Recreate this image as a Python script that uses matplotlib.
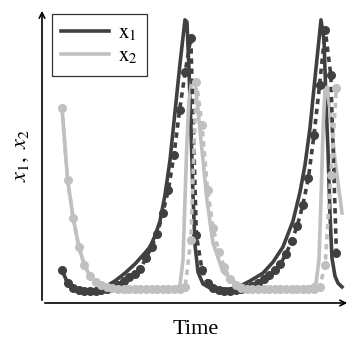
import numpy as np
import matplotlib.pyplot as plt

plt.rcParams['mathtext.fontset'] = 'stix'
plt.rcParams['font.family'] = 'Liberation Serif'

dark = '#404040'
light = '#c0c0c0'

# continuous model (solid)
t_x1 = [0, 1, 2, 3, 4.11, 5.89, 7.68, 9.46, 11.25, 13.04, 14.82, 15.71,
        16.61, 17.5, 18.39, 19.29, 20.18, 21.07, 21.96, 22.32, 22.68, 23.04, 23.39,
        23.75, 24.29, 25.18, 26.43, 28.21, 30.0, 31.79, 33.57, 35.89, 37.68, 39.46,
        41.25, 42.5, 43.39, 44.29, 45.18, 46.25, 46.79, 47.14, 47.5, 47.86, 48.21,
        48.75, 49.29, 50.0]
x1 = [0.093, 0.044, 0.026, 0.020, 0.019, 0.019, 0.030, 0.052, 0.081, 0.115, 0.156, 0.178,
      0.219, 0.274, 0.370, 0.500, 0.678, 0.856, 1.019, 1.011, 0.833, 0.611, 0.370,
      0.185, 0.085, 0.041, 0.026, 0.022, 0.022, 0.033, 0.052, 0.081, 0.122, 0.178,
      0.274, 0.381, 0.481, 0.619, 0.804, 1.019, 0.944, 0.722, 0.537, 0.296, 0.137,
      0.070, 0.044, 0.030]

t_x2 = [0, 1, 2, 3, 4, 5, 6, 8, 10, 20.18, 21.07, 21.61, 21.96,
        22.32, 22.68, 23.21, 23.75, 24.29, 25.0, 25.89, 26.96, 28.75, 31.25, 33.57,
        38.93, 44.29, 45.36, 45.89, 46.25, 46.61, 46.96, 47.32, 47.86, 48.75, 50.0]
x2 = [0.693, 0.426, 0.285, 0.178, 0.111, 0.070, 0.048, 0.030, 0.022, 0.022, 0.037, 0.130,
      0.352, 0.574, 0.722, 0.796, 0.789, 0.685, 0.537, 0.352, 0.193, 0.085, 0.041, 0.026,
      0.022, 0.026, 0.044, 0.130, 0.352, 0.611, 0.759, 0.770, 0.685, 0.500, 0.304]

# sampled estimate (dashed + markers)
t_s = list(range(50))
x1_s = [0.093, 0.044, 0.026, 0.019, 0.015, 0.015, 0.015, 0.019, 0.022, 0.030,
        0.037, 0.052, 0.067, 0.078, 0.096, 0.137, 0.178, 0.226, 0.304, 0.389,
        0.519, 0.685, 0.826, 0.952, 0.222, 0.093, 0.044, 0.026, 0.019, 0.015,
        0.015, 0.019, 0.022, 0.026, 0.033, 0.044, 0.059, 0.074, 0.093, 0.115,
        0.152, 0.200, 0.256, 0.333, 0.433, 0.593, 0.778, 0.981, 0.815, 0.156]
x2_s = [0.693, 0.426, 0.285, 0.178, 0.111, 0.070, 0.048, 0.037, 0.030, 0.026,
        0.022, 0.022, 0.022, 0.022, 0.022, 0.022, 0.022, 0.022, 0.022, 0.022,
        0.022, 0.022, 0.030, 0.204, 0.789, 0.630, 0.389, 0.248, 0.159, 0.104,
        0.059, 0.037, 0.026, 0.022, 0.022, 0.022, 0.022, 0.022, 0.022, 0.022,
        0.022, 0.022, 0.022, 0.022, 0.022, 0.022, 0.030, 0.111, 0.444, 0.767]

fig = plt.figure(figsize=(3.6, 3.45), dpi=100)
ax = fig.add_axes([42/360, 42/345, 308/360, 295/345])

ax.plot(t_x1, x1, color=dark, lw=2.6, label=r'$\mathrm{x}_1\ \ $', zorder=2)
ax.plot(t_x2, x2, color=light, lw=2.6, label=r'$\mathrm{x}_2\ \ $', zorder=2)
ax.plot(t_s, x1_s, color=dark, lw=2.6, ls=(0, (1.5, 1.3)), marker='o', ms=5.5, zorder=3)
ax.plot(t_s, x2_s, color=light, lw=2.6, ls=(0, (1.5, 1.3)), marker='o', ms=5.5, zorder=4)

ax.set_xlim(-3.57, 51.43)
ax.set_ylim(-0.0296, 1.063)
ax.set_xticks([])
ax.set_yticks([])
for s in ax.spines.values():
    s.set_visible(False)
ax.annotate('', xy=(0, 1), xytext=(0, 0), xycoords='axes fraction',
            arrowprops=dict(arrowstyle='->', color='black', lw=1.2))
ax.annotate('', xy=(1, 0), xytext=(0, 0), xycoords='axes fraction',
            arrowprops=dict(arrowstyle='->', color='black', lw=1.2))

ax.set_xlabel('Time', fontsize=16, labelpad=12)
ax.set_ylabel(r'$x_1,\ x_2$', fontsize=16, labelpad=8)

leg = ax.legend(loc='upper left', bbox_to_anchor=(0.0325, 0.98), borderaxespad=0,
                fontsize=15, handlelength=2.3, handletextpad=0.4,
                fancybox=False, edgecolor='black',
                borderpad=0.45, labelspacing=0.2)
leg.get_frame().set_linewidth(0.9)

fig.savefig('out.png', dpi=100)
